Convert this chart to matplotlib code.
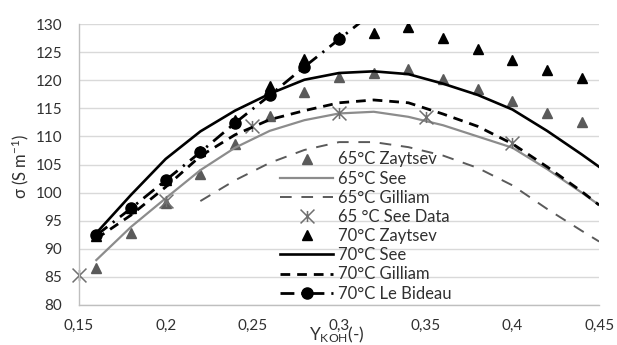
import matplotlib
matplotlib.use("Agg")
import matplotlib.pyplot as plt
from matplotlib.path import Path

plt.rcParams['font.family'] = ['Lato', 'DejaVu Sans']
plt.rcParams['mathtext.fontset'] = 'custom'
plt.rcParams['mathtext.rm'] = 'Lato'
plt.rcParams['mathtext.it'] = 'Lato:italic'

# data
zay_x = [0.16, 0.18, 0.20, 0.22, 0.24, 0.26, 0.28, 0.30, 0.32, 0.34, 0.36, 0.38, 0.40, 0.42, 0.44]
zay65 = [86.5, 92.9, 98.1, 103.3, 108.6, 113.7, 117.9, 120.6, 121.3, 122.0, 120.2, 118.4, 116.3, 114.2, 112.6]
zay70 = [92.3, 97.3, 102.2, 107.4, 112.9, 118.9, 123.8, 127.8, 128.5, 129.5, 127.5, 125.5, 123.6, 121.8, 120.4]

model_x = [0.16, 0.18, 0.20, 0.22, 0.24, 0.26, 0.28, 0.30, 0.32, 0.34, 0.36, 0.38, 0.40, 0.42, 0.44, 0.45]
see65 = [88.0, 93.9, 99.0, 104.0, 108.0, 111.0, 112.9, 114.1, 114.4, 113.5, 112.0, 110.0, 108.0, 104.2, 100.0, 97.8]
see70 = [92.8, 99.6, 106.0, 110.9, 114.6, 117.6, 120.1, 121.3, 121.6, 121.1, 119.4, 117.4, 114.8, 111.0, 106.8, 104.6]
gil70 = [91.8, 96.0, 101.0, 106.5, 110.3, 113.0, 114.6, 116.0, 116.5, 116.0, 114.0, 111.8, 108.7, 104.6, 100.2, 97.8]

gil65_x = [0.22, 0.24, 0.26, 0.28, 0.30, 0.32, 0.34, 0.36, 0.38, 0.40, 0.42, 0.44, 0.45]
gil65 = [98.5, 102.2, 105.3, 107.6, 109.0, 109.0, 108.1, 106.6, 104.4, 101.3, 97.1, 93.2, 91.3]

seedata_x = [0.15, 0.20, 0.25, 0.30, 0.35, 0.40]
seedata = [85.3, 98.6, 111.9, 114.1, 113.5, 108.8]

bid_x = [0.16, 0.18, 0.20, 0.22, 0.24, 0.26, 0.28, 0.30, 0.32]
bid70 = [92.4, 97.2, 102.2, 107.2, 112.4, 117.3, 122.4, 127.3, 132.2]

xticks = [0.15, 0.20, 0.25, 0.30, 0.35, 0.40, 0.45]
xticklabels = ['0,15', '0,2', '0,25', '0,3', '0,35', '0,4', '0,45']
yticks = [80, 85, 90, 95, 100, 105, 110, 115, 120, 125, 130]

# X with a vertical bar, like the spreadsheet star marker
star = Path([(-1, -1), (1, 1), (-1, 1), (1, -1), (0, -0.8), (0, 0.8)],
            [Path.MOVETO, Path.LINETO, Path.MOVETO, Path.LINETO, Path.MOVETO, Path.LINETO])

fig = plt.figure(figsize=(6.17, 3.45), dpi=100)
ax = fig.add_axes([0.128, 0.116, 0.843, 0.814])

g1 = '#5a5a5a'
g2 = '#8c8c8c'
txt = '#303030'

ax.plot(zay_x, zay65, ls='none', marker='^', ms=7, color=g1, label='65°C Zaytsev')
ax.plot(model_x, see65, color=g2, lw=1.6, label='65°C See')
ax.plot(gil65_x, gil65, color=g1, lw=1.4, dashes=(6, 5), label='65°C Gilliam')
ax.plot(seedata_x, seedata, ls='none', marker=star, ms=10, mew=1.1, color='#707070',
        label='65 °C See Data', clip_on=False)
ax.plot(zay_x, zay70, ls='none', marker='^', ms=7, color='black', label='70°C Zaytsev')
ax.plot(model_x, see70, color='black', lw=1.9, label='70°C See')
ax.plot(model_x, gil70, color='black', lw=2.0, dashes=(3.5, 2.5), label='70°C Gilliam')
ax.plot(bid_x, bid70, color='black', lw=2.0, dashes=(5, 2.5, 0.8, 2.5), marker='o', ms=8,
        label='70°C Le Bideau')

ax.set_xlim(0.15, 0.45)
ax.set_ylim(80, 130)
ax.set_xticks(xticks)
ax.set_xticklabels(xticklabels)
ax.set_yticks(yticks)
ax.tick_params(length=0, labelsize=11, colors=txt)
ax.tick_params(axis='y', pad=12)
ax.tick_params(axis='x', pad=10)
ax.grid(axis='y', color='#d9d9d9', lw=1)
ax.set_axisbelow(True)
for s in ['top', 'right']:
    ax.spines[s].set_visible(False)
for s in ['left', 'bottom']:
    ax.spines[s].set_color('#bfbfbf')
    ax.spines[s].set_linewidth(1)

ax.legend(loc='upper left', bbox_to_anchor=(0.3865, 0.547), frameon=False,
          fontsize=12, handlelength=3.2, handletextpad=0.25, labelspacing=0.19,
          borderpad=0, borderaxespad=0, labelcolor=txt)

fig.text(0.032, 0.519, 'σ (S m$^{-1}$)', rotation=90, ha='center', va='center',
         fontsize=12, color=txt)
fig.text(0.546, 0.03, 'Y$_{\\mathrm{KOH}}$(-)', ha='center', va='center',
         fontsize=12.5, color=txt)

fig.savefig('out.png', dpi=100)
